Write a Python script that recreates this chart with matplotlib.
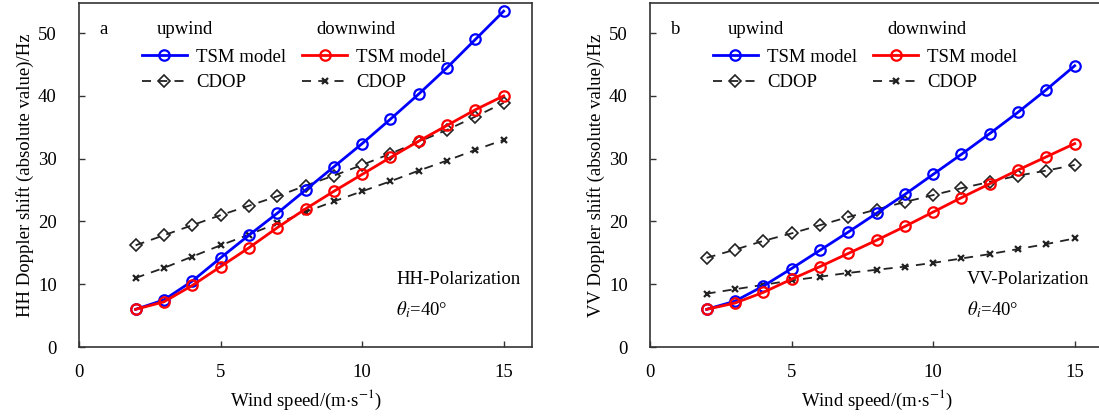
import matplotlib
matplotlib.use("Agg")
import matplotlib.pyplot as plt

plt.rcParams['font.family'] = ['Liberation Serif', 'DejaVu Serif']
plt.rcParams['mathtext.fontset'] = 'stix'

wind = [2, 3, 4, 5, 6, 7, 8, 9, 10, 11, 12, 13, 14, 15]

hh_tsm_up = [6.0, 7.5, 10.5, 14.2, 17.8, 21.3, 25.0, 28.7, 32.4, 36.3, 40.3, 44.5, 49.0, 53.5]
hh_tsm_down = [6.0, 7.2, 9.8, 12.8, 15.8, 19.0, 22.0, 24.8, 27.5, 30.2, 32.8, 35.3, 37.8, 40.0]
hh_cdop_up = [16.2, 17.8, 19.4, 21.0, 22.5, 24.0, 25.7, 27.3, 29.0, 30.8, 32.7, 34.6, 36.7, 38.9]
hh_cdop_down = [11.0, 12.6, 14.4, 16.2, 17.9, 19.7, 21.5, 23.2, 24.8, 26.4, 28.1, 29.7, 31.4, 33.0]

vv_tsm_up = [6.0, 7.3, 9.7, 12.5, 15.4, 18.3, 21.3, 24.3, 27.5, 30.7, 34.0, 37.4, 41.0, 44.8]
vv_tsm_down = [6.0, 7.0, 8.7, 10.8, 12.8, 14.9, 17.0, 19.2, 21.5, 23.8, 26.0, 28.2, 30.3, 32.4]
vv_cdop_up = [14.2, 15.5, 16.9, 18.1, 19.4, 20.7, 21.9, 23.1, 24.2, 25.3, 26.3, 27.3, 28.1, 29.0]
vv_cdop_down = [8.5, 9.2, 9.9, 10.6, 11.2, 11.8, 12.3, 12.8, 13.4, 14.1, 14.8, 15.6, 16.4, 17.3]

xticks = [0, 5, 10, 15]
yticks = [0, 10, 20, 30, 40, 50]

panels = [
    dict(letter='a', pol='HH', up=hh_tsm_up, down=hh_tsm_down, cup=hh_cdop_up, cdown=hh_cdop_down,
         rect=[79/1099, 69/416, 453/1099, 344/416]),
    dict(letter='b', pol='VV', up=vv_tsm_up, down=vv_tsm_down, cup=vv_cdop_up, cdown=vv_cdop_down,
         rect=[650/1099, 69/416, 453/1099, 344/416]),
]

fig = plt.figure(figsize=(10.99, 4.16), dpi=100)
fs = 13.5
spine_col = '#333333'

for p in panels:
    ax = fig.add_axes(p['rect'])
    l1, = ax.plot(wind, p['up'], color='#0000ff', lw=2.0, marker='o', ms=7.5,
                  mfc='none', mec='#0000ff', mew=1.6, zorder=4)
    l2, = ax.plot(wind, p['down'], color='#ff0000', lw=2.0, marker='o', ms=7.5,
                  mfc='none', mec='#ff0000', mew=1.6, zorder=4)
    l3, = ax.plot(wind, p['cup'], color='#222222', lw=1.3, ls=(0, (5, 4)), marker='D', ms=6,
                  mfc='none', mec='#222222', mew=1.2, zorder=3)
    l4, = ax.plot(wind, p['cdown'], color='#222222', lw=1.3, ls=(0, (5, 4)), marker='x', ms=5,
                  mec='#222222', mew=1.6, zorder=3)
    ax.set_xlim(0, 16)
    ax.set_ylim(0, 54.8)
    ax.set_xticks(xticks)
    ax.set_yticks(yticks)
    ax.tick_params(direction='in', length=4, width=1, colors=spine_col, labelcolor='black',
                   labelsize=fs)
    ax.tick_params(axis='x', pad=12)
    ax.tick_params(axis='y', pad=16)
    for s in ax.spines.values():
        s.set_color(spine_col)
        s.set_linewidth(1.2)
    ax.set_xlabel('Wind speed/(m$\\cdot$s$^{-1}$)', fontsize=fs, labelpad=5)
    ax.set_ylabel(p['pol'] + ' Doppler shift (absolute value)/Hz', fontsize=fs, labelpad=3)

    leg = ax.legend([l1, l3, l2, l4], ['TSM model', 'CDOP', 'TSM model', 'CDOP'], ncol=2,
                    loc='upper left', bbox_to_anchor=(0.139, 0.868), frameon=False, fontsize=fs,
                    handlelength=2.4, handletextpad=0.48, columnspacing=0.85, labelspacing=0.45,
                    borderpad=0, borderaxespad=0, markerscale=1.0, numpoints=1)
    ax.text(0.046, 0.922, p['letter'], transform=ax.transAxes, fontsize=fs, va='center', ha='left')
    ax.text(0.172, 0.922, 'upwind', transform=ax.transAxes, fontsize=fs, va='center', ha='left')
    ax.text(0.525, 0.922, 'downwind', transform=ax.transAxes, fontsize=fs, va='center', ha='left')
    ax.text(0.70, 0.195, p['pol'] + '-Polarization', transform=ax.transAxes, fontsize=fs,
            va='center', ha='left')
    ax.text(0.70, 0.108, '$\\theta_i$=40°', transform=ax.transAxes, fontsize=fs,
            va='center', ha='left')

fig.savefig('out.png', dpi=100)
